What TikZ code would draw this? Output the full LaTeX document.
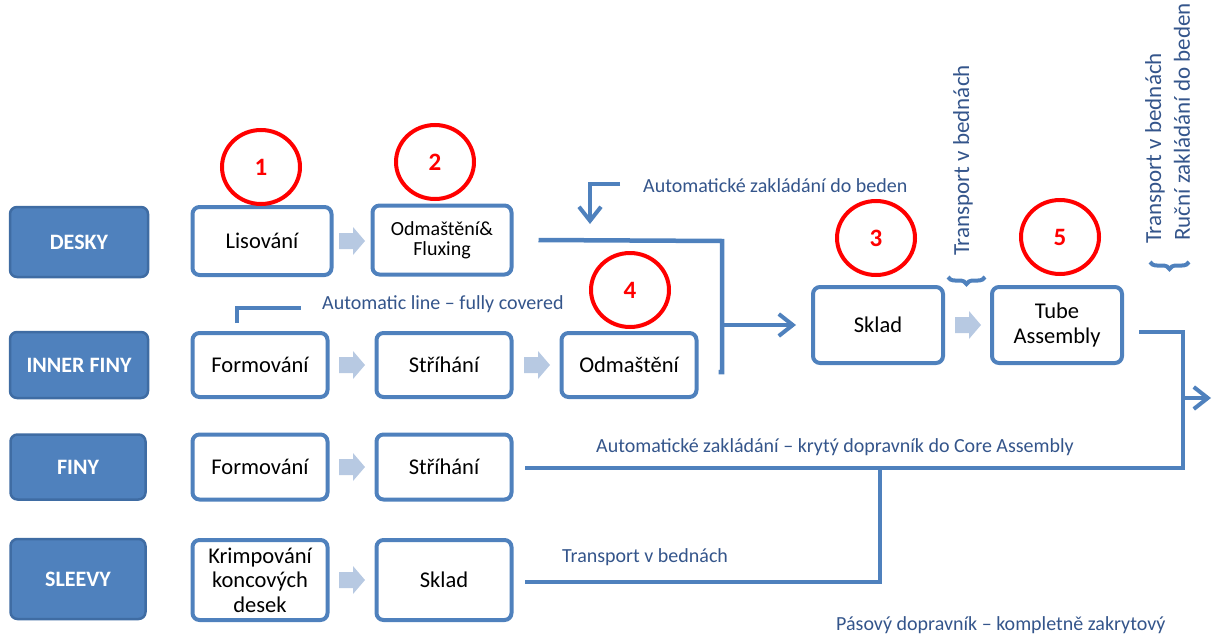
\documentclass[tikz,border=0pt]{standalone}
\usepackage{fontspec}
\setmainfont{Carlito}
\usetikzlibrary{arrows.meta,decorations.pathreplacing,shapes.geometric}
\definecolor{boxblue}{HTML}{4F81BD}
\definecolor{boxedge}{HTML}{3F6CA3}
\definecolor{lineblue}{HTML}{4F81BD}
\definecolor{txtblue}{HTML}{34558B}
\definecolor{blockarr}{HTML}{B7C9E2}
\definecolor{ringred}{HTML}{FF0000}
\tikzset{
  label/.style={draw=boxedge, line width=2.5pt, fill=boxblue, rounded corners=7pt, text=white,
     font=\fontsize{22}{24}\selectfont\bfseries, minimum width=138pt, inner sep=0pt},
  stepbox/.style={draw=lineblue, line width=4pt, fill=white, rounded corners=7pt, text=black,
     font=\fontsize{22.5}{24.5}\selectfont, minimum width=135pt, inner sep=0pt, align=center},
  ring/.style={draw=ringred, line width=4pt, ellipse, minimum width=78pt, minimum height=74pt,
     text=ringred, font=\fontsize{25}{27}\selectfont\bfseries, inner sep=0pt},
  conn/.style={draw=lineblue, line width=4.5pt},
  barb/.style={-{Straight Barb[length=14pt,width=22pt,line width=4pt]}},
  note/.style={text=txtblue, font=\fontsize{20}{22}\selectfont, inner sep=0pt},
  vnote/.style={text=txtblue, font=\fontsize{23}{25}\selectfont, inner sep=0pt, rotate=90},
  brc/.style={draw=lineblue, line width=4pt, decorate, decoration={brace, amplitude=7pt, mirror}},
}
\newcommand{\blockarrow}[2]{%
  \fill[blockarr] (#1-13,#2-8) -- (#1+1,#2-8) -- (#1+1,#2-14) -- (#1+13,#2) --
     (#1+1,#2+14) -- (#1+1,#2+8) -- (#1-13,#2+8) -- cycle;}
\begin{document}
\begin{tikzpicture}[x=1pt,y=-1pt]
\useasboundingbox (0,0) rectangle (1213,637);
\clip (0,0) rectangle (1213,637);

% row labels
\node[label, minimum height=70pt] (desky) at (79,242) {DESKY};
\node[label, minimum height=66pt] (inner) at (79,365) {INNER FINY};
\node[label, minimum height=65pt, minimum width=135pt] (finy) at (78,467) {FINY};
\node[label, minimum height=80pt, minimum width=135pt] (sleevy) at (78,579) {SLEEVY};

% process boxes
\node[stepbox, minimum width=139pt, minimum height=68pt] (lis) at (262,241) {Lisování};
\node[stepbox, minimum width=139pt, minimum height=69pt, font=\fontsize{20}{20}\selectfont] (odf) at (442,240) {Odmaštění\&\\Fluxing};
\node[stepbox, minimum height=64pt] (form1) at (260,365) {Formování};
\node[stepbox, minimum height=64pt] (str1) at (444,365) {Stříhání};
\node[stepbox, minimum height=64pt] (odm) at (629,365) {Odmaštění};
\node[stepbox, minimum height=65pt] (form2) at (260,467) {Formování};
\node[stepbox, minimum height=65pt] (str2) at (444,467) {Stříhání};
\node[stepbox, minimum height=80pt] (krimp) at (260,580) {Krimpování\\koncových\\desek};
\node[stepbox, minimum height=80pt] (sklad2) at (444,580) {Sklad};
\node[stepbox, minimum width=130pt, minimum height=76pt] (sklad) at (878,325) {Sklad};
\node[stepbox, minimum width=130pt, minimum height=76pt] (tube) at (1057,325) {Tube\\Assembly};

% block arrows
\blockarrow{352}{241}
\blockarrow{352}{365}
\blockarrow{537}{365}
\blockarrow{352}{467}
\blockarrow{352}{580}
\blockarrow{968}{325}

% numbered rings
\node[ring] (c1) at (261,167) {1};
\node[ring] (c2) at (435,162) {2};
\node[ring] (c3) at (876,238) {3};
\node[ring] (c4) at (630,290) {4};
\node[ring] (c5) at (1060,237) {5};

% notes
\node[note, anchor=west] (nbeden) at (643,186) {Automatické zakládání do beden};
\node[note, anchor=west] (nline) at (322,304) {Automatic line – fully covered};
\node[note, anchor=west] (ncore) at (596,447) {Automatické zakládání – krytý dopravník do Core Assembly};
\node[note, anchor=west] (ntrans) at (562,557) {Transport v bednách};
\node[vnote, anchor=west] (vt1) at (963,256) {Transport v bednách};
\node[vnote, anchor=west] (vt2) at (1155,244) {Transport v bednách};
\node[vnote, anchor=west] (vt3) at (1182,241) {Ruční zakládání do beden};
\node[note, anchor=base west] (npas) at (836,630) {Pásový dopravník – kompletně zakrytový};

% braces
\coordinate (b1a) at (948,277);
\coordinate (b1b) at (985,277);
\draw[brc] (b1a) -- (b1b);
\coordinate (b2a) at (1150,262);
\coordinate (b2b) at (1189,262);
\draw[brc] (b2a) -- (b2b);

% connectors
\coordinate (j1) at (722,241);
\coordinate (j2) at (722,372);
\coordinate (j3) at (722,325);
\draw[conn] ([xshift=25pt]odf.east) -- (j1) -- (j2) -- ([xshift=20pt,yshift=-7pt]odm.east);
\draw[conn, barb] (j3) -- ([xshift=-15pt]sklad.west);

\coordinate (d1) at (620,184);
\coordinate (d2) at (590,184);
\coordinate (d3) at (590,224);
\draw[conn, barb] (d1) -- (d2) -- (d3);

\coordinate (l1) at (237,323);
\coordinate (l2) at (237,308);
\coordinate (l3) at (301,308);
\draw[conn] (l1) -- (l2) -- (l3);

\coordinate (t1) at (1183,332);
\coordinate (t2) at (1183,468);
\coordinate (t3) at (1183,398);
\coordinate (t4) at (1211,398);
\coordinate (m1) at (880,468);
\coordinate (m2) at (880,582);
\draw[conn] ([xshift=15pt,yshift=-7pt]tube.east) -- (t1) -- (t2) -- ([xshift=11pt,yshift=-1pt]str2.east);
\draw[conn, barb] (t3) -- (t4);
\draw[conn] (m1) -- (m2) -- ([xshift=11pt,yshift=-2pt]sklad2.east);
\end{tikzpicture}
\end{document}
